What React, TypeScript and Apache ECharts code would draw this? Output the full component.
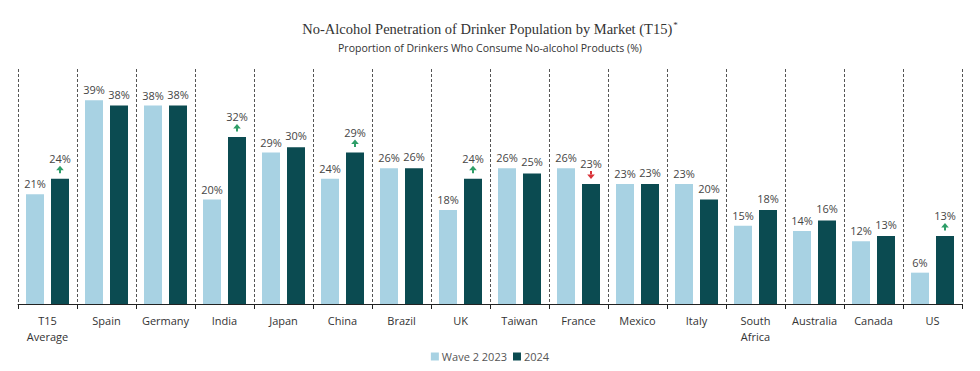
import React, { useEffect, useRef } from "react";
import * as echarts from "echarts";

const categories = [
  "T15\nAverage", "Spain", "Germany", "India", "Japan", "China", "Brazil", "UK",
  "Taiwan", "France", "Mexico", "Italy", "South\nAfrica", "Australia", "Canada", "US",
];
const wave2023 = [21, 39, 38, 20, 29, 24, 26, 18, 26, 26, 23, 23, 15, 14, 12, 6];
const year2024 = [24, 38, 38, 32, 30, 29, 26, 24, 25, 23, 23, 20, 18, 16, 13, 13];
// significance markers for 2024 vs wave 2 2023: 1 = up, -1 = down, 0 = none
const changeFlags = [1, 0, 0, 1, 0, 1, 0, 1, 0, -1, 0, 0, 0, 0, 0, 1];
const seriesNames = ["Wave 2 2023", "2024"];

const LIGHT = "#a8d2e3";
const DARK = "#0b4b51";
const TEXT = "#454545";
const UP = "#2e9e68";
const DOWN = "#d9343a";
const BAR_W = 18;
const BAR_GAP = 7;

export default function App() {
  const ref = useRef<HTMLDivElement>(null);
  useEffect(() => {
    document.body.style.margin = "0";
    if (!ref.current) return;
    const chart = echarts.init(ref.current, undefined, { renderer: "svg" });
    const font = "'Open Sans', 'Noto Sans', sans-serif";
    const serif = "'Liberation Serif', 'DejaVu Serif', serif";
    const arrowData = changeFlags
      .map((f, i) => [i, year2024[i], f])
      .filter((d) => d[2] !== 0);
    chart.setOption({
      animation: false,
      title: {
        text: "{t|No-Alcohol Penetration of Drinker Population by Market (T15)}{sup|*}",
        subtext: "Proportion of Drinkers Who Consume No-alcohol Products (%)",
        left: "center",
        top: 15,
        itemGap: 6,
        textStyle: {
          fontFamily: serif,
          fontSize: 14.5,
          fontWeight: "normal",
          color: "#333",
          rich: {
            t: { fontFamily: serif, fontSize: 14.5, color: "#333", lineHeight: 18 },
            sup: {
              fontFamily: serif,
              fontSize: 9,
              color: "#333",
              verticalAlign: "top",
              lineHeight: 18,
              padding: [0, 0, 6, 1],
            },
          },
        },
        subtextStyle: {
          fontFamily: font,
          fontSize: 10.5,
          color: "#333",
        },
      },
      legend: {
        data: seriesNames,
        bottom: 4,
        left: "center",
        icon: "rect",
        itemWidth: 8,
        itemHeight: 8,
        itemGap: 6,
        textStyle: { fontFamily: font, fontSize: 11, color: "#555", padding: [0, 0, 0, -2] },
      },
      grid: { left: 18, right: 18, top: 69, bottom: 67, containLabel: false },
      xAxis: {
        type: "category",
        data: categories,
        axisLine: { lineStyle: { color: "#222", width: 1 } },
        axisTick: { show: true, length: 5, lineStyle: { color: "#222" } },
        axisLabel: {
          fontFamily: font,
          fontSize: 11,
          color: "#333",
          margin: 8,
          lineHeight: 16,
          interval: 0,
        },
        splitLine: {
          show: true,
          interval: 0,
          lineStyle: { color: "#555", type: [3, 2], width: 1 },
        },
      },
      yAxis: {
        type: "value",
        min: 0,
        max: 45,
        show: false,
        splitLine: { show: false },
      },
      series: [
        {
          name: seriesNames[0],
          type: "bar",
          data: wave2023,
          barWidth: BAR_W,
          barGap: (BAR_GAP / BAR_W) * 100 + "%",
          itemStyle: { color: LIGHT },
          label: {
            show: true,
            position: "top",
            distance: 5,
            fontFamily: font,
            fontSize: 11,
            color: TEXT,
            formatter: (p: any) => `${p.value}%`,
          },
        },
        {
          name: seriesNames[1],
          type: "bar",
          data: year2024,
          barWidth: BAR_W,
          itemStyle: { color: DARK },
          label: {
            show: true,
            position: "top",
            distance: 5,
            fontFamily: font,
            fontSize: 11,
            color: TEXT,
            formatter: (p: any) => {
              const f = changeFlags[p.dataIndex];
              if (f !== 0) return `{v|${p.value}%}\n{s| }`;
              return `{v|${p.value}%}`;
            },
            rich: {
              v: { fontFamily: font, fontSize: 11, color: TEXT, lineHeight: 13 },
              s: { fontSize: 8, lineHeight: 9 },
            },
          },
        },
        {
          name: "change",
          type: "custom",
          coordinateSystem: "cartesian2d",
          data: arrowData,
          encode: { x: 0, y: 1 },
          z: 5,
          silent: true,
          renderItem: (params: any, api: any) => {
            const pt = api.coord([api.value(0), api.value(1)]);
            const cx = pt[0] + (BAR_W + BAR_GAP) / 2;
            const y = pt[1];
            const f = api.value(2);
            if (f > 0) {
              return {
                type: "group",
                children: [
                  {
                    type: "polygon",
                    shape: { points: [[cx, y - 13], [cx - 3.8, y - 8.5], [cx + 3.8, y - 8.5]] },
                    style: { fill: UP },
                  },
                  {
                    type: "rect",
                    shape: { x: cx - 1, y: y - 9, width: 2, height: 3.5 },
                    style: { fill: UP },
                  },
                ],
              };
            }
            return {
              type: "group",
              children: [
                {
                  type: "rect",
                  shape: { x: cx - 1, y: y - 13, width: 2, height: 3.5 },
                  style: { fill: DOWN },
                },
                {
                  type: "polygon",
                  shape: { points: [[cx, y - 5], [cx - 3.8, y - 9.5], [cx + 3.8, y - 9.5]] },
                  style: { fill: DOWN },
                },
              ],
            };
          },
        },
      ],
    });
    return () => chart.dispose();
  }, []);
  return <div ref={ref} style={{ width: 980, height: 371 }} />;
}
